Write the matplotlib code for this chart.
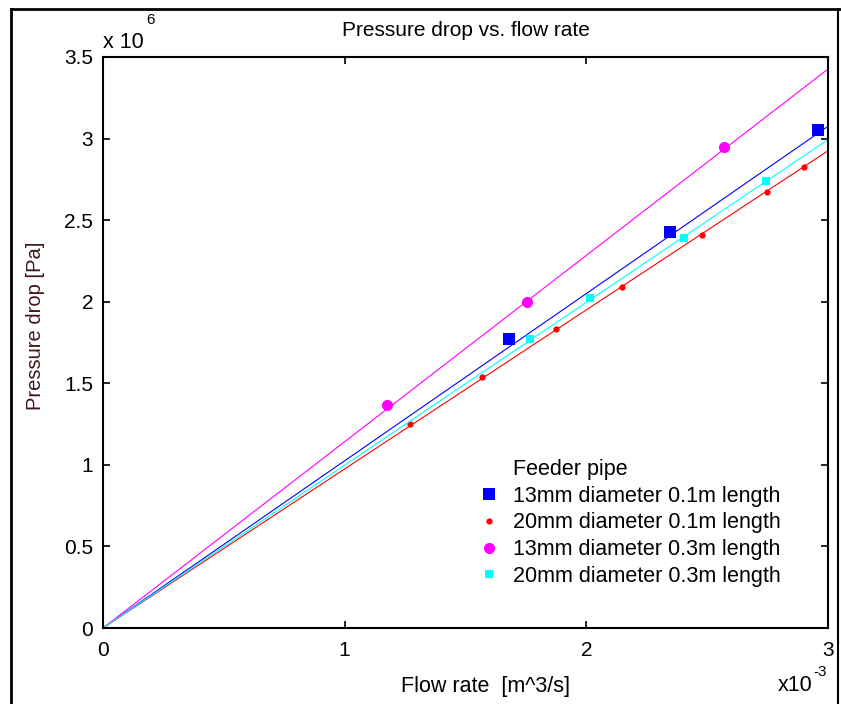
import matplotlib.pyplot as plt
from matplotlib.lines import Line2D

plt.rcParams['font.family'] = ['Liberation Sans', 'DejaVu Sans']

# flow rate in 1e-3 m^3/s, pressure drop in 1e6 Pa
q_13_01 = [1.680, 2.346, 2.958]
dp_13_01 = [1.769, 2.430, 3.054]

q_20_01 = [1.270, 1.568, 1.874, 2.147, 2.478, 2.747, 2.900]
dp_20_01 = [1.248, 1.536, 1.830, 2.093, 2.411, 2.674, 2.827]

q_13_03 = [1.175, 1.754, 2.569]
dp_13_03 = [1.365, 2.001, 2.950]

q_20_03 = [1.767, 2.015, 2.404, 2.743]
dp_20_03 = [1.769, 2.020, 2.393, 2.742]

# slopes of the fitted lines through the origin (1e6 Pa per 1e-3 m^3/s)
fit_slopes = [1.025, 0.975, 1.142, 0.998]

labels = ['13mm diameter 0.1m length', '20mm diameter 0.1m length',
          '13mm diameter 0.3m length', '20mm diameter 0.3m length']
colors = ['#0000ff', '#ff0000', '#ff00ff', '#00ffff']
markers = ['s', 'o', 'o', 's']
msizes = [9, 4.5, 8, 5.5]

fig = plt.figure(figsize=(8.41, 7.04), dpi=100)
ax = fig.add_axes([103 / 841, 1 - 628 / 704, 725 / 841, 571 / 704])

series = [(q_13_01, dp_13_01), (q_20_01, dp_20_01),
          (q_13_03, dp_13_03), (q_20_03, dp_20_03)]

handles = [Line2D([], [], linestyle='none', marker=None)]
for (q, dp), k, c, m, ms in zip(series, fit_slopes, colors, markers, msizes):
    ax.plot([0, 3], [0, 3 * k], color=c, lw=0.8)
    h, = ax.plot(q, dp, linestyle='none', marker=m, color=c, markersize=ms,
                 markeredgewidth=0)
    handles.append(h)

ax.set_xlim(0, 3)
ax.set_ylim(0, 3.5)
ax.set_xticks([0, 1, 2, 3])
ax.set_xticklabels(['0', '1', '2', '3'])
ax.set_yticks([0, 0.5, 1, 1.5, 2, 2.5, 3, 3.5])
ax.set_yticklabels(['0', '0.5', '1', '1.5', '2', '2.5', '3', '3.5'])
ax.tick_params(direction='in', length=5, width=1.2, top=True, right=True,
               labelsize=15)
ax.tick_params(axis='x', pad=9)
ax.tick_params(axis='y', pad=7)
for s in ax.spines.values():
    s.set_linewidth(1.5)

ax.set_title('Pressure drop vs. flow rate', fontsize=15, pad=15)
ax.set_xlabel('Flow rate  [m^3/s]', fontsize=15.5, labelpad=12, x=0.527)
ax.set_ylabel('Pressure drop [Pa]', fontsize=14.5, color='#401818',
              labelpad=14, y=0.53)

# exponent labels
fig.text(103 / 841, 1 - 48 / 704, 'x 10', fontsize=15.5, ha='left', va='baseline')
fig.text(146 / 841, 1 - 24 / 704, '6', fontsize=11, ha='left', va='baseline')
fig.text(778 / 841, 1 - 691 / 704, 'x10', fontsize=15.5, ha='left', va='baseline')
fig.text(813 / 841, 1 - 676 / 704, '-3', fontsize=11, ha='left', va='baseline')

leg = ax.legend(handles, ['Feeder pipe'] + labels, loc='upper left',
                bbox_to_anchor=((467 - 103) / 725, (628 - 448) / 571),
                frameon=False, fontsize=15.5, handlelength=1.0,
                handletextpad=0.66, labelspacing=0.27, borderpad=0)

# outer figure frame
fig.add_artist(Line2D([11 / 841, 11 / 841], [0, 1 - 9 / 704], color='black',
                      lw=2, transform=fig.transFigure))
fig.add_artist(Line2D([11 / 841, 1], [1 - 9 / 704, 1 - 9 / 704], color='black',
                      lw=2, transform=fig.transFigure))
fig.add_artist(Line2D([838 / 841, 838 / 841], [0, 1 - 9 / 704], color='black',
                      lw=1.5, transform=fig.transFigure))

fig.savefig('out.png', dpi=100)
